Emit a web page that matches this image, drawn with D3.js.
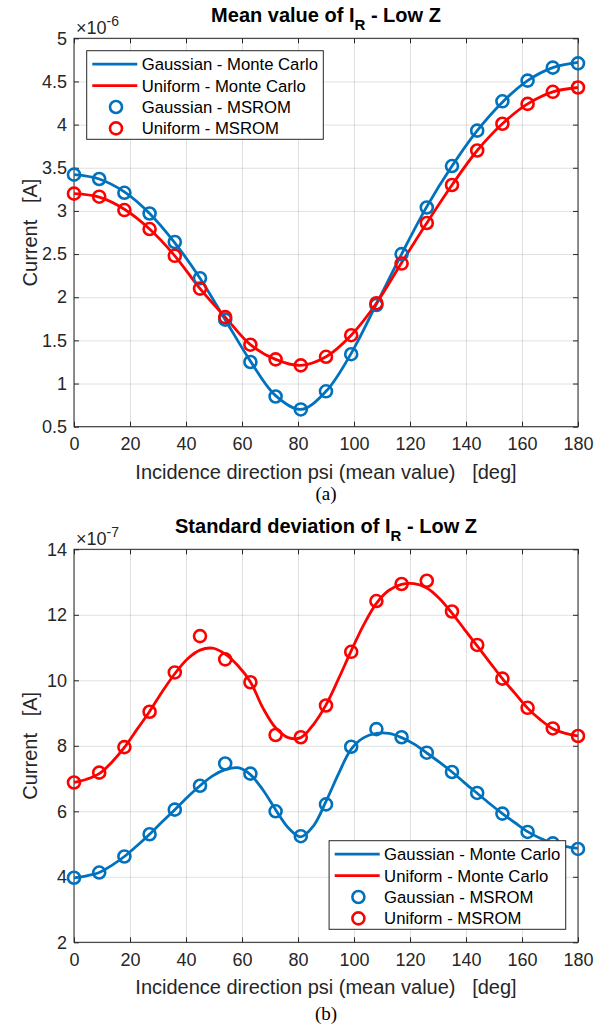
<!DOCTYPE html>
<html lang="en">
<head>
<meta charset="utf-8">
<title>Mean value and standard deviation of I_R - Low Z</title>
<script src="https://d3js.org/d3.v7.min.js"></script>
<style>
  body { margin: 0; background: #fff; }
  svg { display: block; font-family: 'Liberation Sans', Arial, Helvetica, sans-serif; }
  .tick text { fill: #262626; font-size: 18px; }
  .tick line, .box { stroke: #262626; }
  .grid line { stroke: #000; stroke-opacity: 0.12; }
</style>
</head>
<body>
<script>
// incidence angle where MSROM markers sit
const psiMarks = [0, 9, 18, 27, 36, 45, 54, 63, 72, 81, 90, 99, 108, 117, 126, 135, 144, 153, 162, 171, 180];
// finer angles for the Monte Carlo curves of the std plot
const psiFine = [0, 4.5, 9, 13.5, 18, 22.5, 27, 31.5, 36, 40.5, 45, 49.5, 54, 58.5, 63, 67.5, 72, 76.5, 81, 85.5,
                 90, 94.5, 99, 103.5, 108, 112.5, 117, 121.5, 126, 130.5, 135, 139.5, 144, 148.5, 153, 157.5, 162, 166.5, 171, 175.5, 180];
const psiTicks = [0, 20, 40, 60, 80, 100, 120, 140, 160, 180];

// (a) mean value, x 1e-6 A
const meanTicks = [0.5, 1, 1.5, 2, 2.5, 3, 3.5, 4, 4.5, 5];
const gaussMeanMC = [3.42, 3.37, 3.22, 2.97, 2.63, 2.22, 1.74, 1.26, 0.86, 0.70, 0.91, 1.35, 1.92, 2.50, 3.05, 3.52, 3.93, 4.26, 4.51, 4.66, 4.72];
const uniformMeanMC = [3.20, 3.16, 3.02, 2.79, 2.48, 2.10, 1.77, 1.45, 1.28, 1.21, 1.31, 1.56, 1.93, 2.40, 2.86, 3.30, 3.70, 4.01, 4.24, 4.38, 4.43];
const gaussMeanROM = [3.42, 3.37, 3.21, 2.97, 2.64, 2.22, 1.74, 1.25, 0.85, 0.70, 0.91, 1.34, 1.91, 2.50, 3.04, 3.52, 3.93, 4.27, 4.51, 4.66, 4.71];
const uniformMeanROM = [3.20, 3.165, 3.01, 2.79, 2.48, 2.10, 1.77, 1.45, 1.28, 1.21, 1.31, 1.56, 1.93, 2.39, 2.86, 3.30, 3.70, 4.01, 4.24, 4.38, 4.43];

// (b) standard deviation, x 1e-7 A
const sdTicks = [2, 4, 6, 8, 10, 12, 14];
const gaussSdMC = [3.97, 4.03, 4.13, 4.35, 4.62, 4.95, 5.30, 5.68, 6.05, 6.43, 6.78, 7.08, 7.27, 7.33, 7.12, 6.65, 6.05, 5.50, 5.22, 5.55,
                   6.30, 7.15, 7.90, 8.25, 8.38, 8.38, 8.25, 8.05, 7.78, 7.50, 7.20, 6.87, 6.55, 6.23, 5.93, 5.65, 5.38, 5.18, 5.03, 4.93, 4.87];
const uniformSdMC = [6.88, 6.98, 7.15, 7.50, 7.95, 8.50, 9.05, 9.65, 10.20, 10.65, 10.92, 10.98, 10.80, 10.45, 9.95, 9.15, 8.55, 8.25, 8.25, 8.65,
                     9.25, 10.05, 10.90, 11.70, 12.35, 12.75, 12.93, 12.95, 12.82, 12.50, 12.05, 11.55, 11.05, 10.55, 10.05, 9.60, 9.15, 8.80, 8.52, 8.38, 8.30];
const gaussSdROM = [3.97, 4.13, 4.62, 5.30, 6.05, 6.78, 7.46, 7.15, 6.00, 5.24, 6.21, 7.97, 8.51, 8.26, 7.79, 7.20, 6.56, 5.93, 5.37, 5.02, 4.85];
const uniformSdROM = [6.88, 7.18, 7.96, 9.04, 10.24, 11.35, 10.64, 9.94, 8.33, 8.26, 9.23, 10.87, 12.42, 12.94, 13.04, 12.10, 11.08, 10.05, 9.16, 8.53, 8.30];

const legendLabels = ["Gaussian - Monte Carlo", "Uniform - Monte Carlo", "Gaussian - MSROM", "Uniform - MSROM"];

const blue = "#0072BD", red = "#FF0000", ink = "#262626";

const svg = d3.select("body").append("svg").attr("width", 603).attr("height", 1030);

function panel(p) {
  const x = d3.scaleLinear().domain([0, 180]).range([74, 578]);
  const y = d3.scaleLinear().domain(p.yDomain).range([p.bottom, p.top]);
  const g = svg.append("g");
  const h = p.bottom - p.top;

  // grid
  g.append("g").attr("class", "grid").attr("transform", `translate(0,${p.bottom})`)
    .call(d3.axisBottom(x).tickValues(psiTicks).tickSize(-h).tickFormat(""))
    .call(s => s.select(".domain").remove());
  g.append("g").attr("class", "grid").attr("transform", "translate(74,0)")
    .call(d3.axisLeft(y).tickValues(p.yTicks).tickSize(-504).tickFormat(""))
    .call(s => s.select(".domain").remove());

  // axes with inward ticks
  g.append("g").attr("transform", `translate(0,${p.bottom})`)
    .call(d3.axisBottom(x).tickValues(psiTicks).tickSizeInner(-5).tickSizeOuter(0).tickPadding(p.xPad))
    .call(s => s.select(".domain").remove());
  g.append("g").attr("transform", `translate(0,${p.top})`)
    .call(d3.axisTop(x).tickValues(psiTicks).tickSizeInner(-5).tickSizeOuter(0).tickFormat(""))
    .call(s => s.select(".domain").remove());
  g.append("g").attr("transform", "translate(74,0)")
    .call(d3.axisLeft(y).tickValues(p.yTicks).tickSizeInner(-5).tickSizeOuter(0).tickPadding(7).tickFormat(d => String(d)))
    .call(s => s.select(".domain").remove());
  g.append("g").attr("transform", "translate(578,0)")
    .call(d3.axisRight(y).tickValues(p.yTicks).tickSizeInner(-5).tickSizeOuter(0).tickFormat(""))
    .call(s => s.select(".domain").remove());
  g.append("rect").attr("class", "box").attr("x", 74).attr("y", p.top)
    .attr("width", 504).attr("height", h).attr("fill", "none").attr("stroke-width", 1);

  // exponent label
  const ex = g.append("text").attr("x", 76).attr("y", p.top - 4).attr("fill", ink).attr("font-size", 18).text("\u00d710");
  ex.append("tspan").attr("dy", -8).attr("font-size", 14).text(p.exp);

  // title
  const t = g.append("text").attr("x", 326).attr("y", p.top - 16).attr("text-anchor", "middle")
    .attr("font-weight", "bold").attr("font-size", 20).attr("fill", "#000").text(p.title);
  t.append("tspan").attr("dy", 8).attr("font-size", 15).text("R");
  t.append("tspan").attr("dy", -8).text(" - Low Z");

  // axis labels
  g.append("text").attr("x", 326).attr("y", p.bottom + 52).attr("text-anchor", "middle")
    .attr("font-size", 20).attr("fill", ink).attr("xml:space", "preserve")
    .text("Incidence direction psi (mean value)   [deg]");
  g.append("text").attr("transform", `translate(37,${(p.top + p.bottom) / 2}) rotate(-90)`)
    .attr("text-anchor", "middle").attr("font-size", 20).attr("fill", ink).attr("xml:space", "preserve")
    .text("Current   [A]");
  g.append("text").attr("x", 326).attr("y", p.caption).attr("text-anchor", "middle")
    .attr("font-family", "'Liberation Serif', 'Times New Roman', serif").attr("font-size", 19).attr("fill", "#000")
    .text(p.tag);

  // Monte Carlo curves
  const line = d3.line().x(d => x(d[0])).y(d => y(d[1])).curve(d3.curveCatmullRom.alpha(0.5));
  [[p.gaussMC, blue], [p.uniformMC, red]].forEach(([vals, c]) => {
    g.append("path").datum(d3.zip(p.psiLine, vals)).attr("d", line)
      .attr("fill", "none").attr("stroke", c).attr("stroke-width", 2.8);
  });

  // MSROM markers
  [[p.gaussROM, blue], [p.uniformROM, red]].forEach(([vals, c]) => {
    g.append("g").selectAll("circle").data(d3.zip(psiMarks, vals)).join("circle")
      .attr("cx", d => x(d[0])).attr("cy", d => y(d[1])).attr("r", 6)
      .attr("fill", "none").attr("stroke", c).attr("stroke-width", 2.6);
  });

  // legend
  const lg = g.append("g").attr("transform", `translate(${p.legend[0]},${p.legend[1]})`);
  lg.append("rect").attr("width", 236.6).attr("height", 88.6).attr("fill", "#fff")
    .attr("stroke", ink).attr("stroke-width", 1);
  const colors = [blue, red, blue, red];
  legendLabels.forEach((lab, i) => {
    const cy = 13.5 + i * 21.4;
    if (i < 2) {
      lg.append("line").attr("x1", 5.6).attr("x2", 50.6).attr("y1", cy).attr("y2", cy)
        .attr("stroke", colors[i]).attr("stroke-width", 2.8);
    } else {
      lg.append("circle").attr("cx", 29.3).attr("cy", cy).attr("r", 6)
        .attr("fill", "none").attr("stroke", colors[i]).attr("stroke-width", 2.6);
    }
    lg.append("text").attr("x", 55).attr("y", cy).attr("dy", "0.36em")
      .attr("font-size", 16.7).attr("fill", "#000").text(lab);
  });
}

panel({
  top: 38.3, bottom: 426.7, yDomain: [0.5, 5], yTicks: meanTicks, exp: "-6", xPad: 11,
  title: "Mean value of I", tag: "(a)", caption: 500,
  psiLine: psiMarks, gaussMC: gaussMeanMC, uniformMC: uniformMeanMC,
  gaussROM: gaussMeanROM, uniformROM: uniformMeanROM, legend: [86.7, 50.7]
});
panel({
  top: 549.3, bottom: 942.3, yDomain: [2, 14], yTicks: sdTicks, exp: "-7", xPad: 11,
  title: "Standard deviation of I", tag: "(b)", caption: 1020,
  psiLine: psiFine, gaussMC: gaussSdMC, uniformMC: uniformSdMC,
  gaussROM: gaussSdROM, uniformROM: uniformSdROM, legend: [329.1, 840.7]
});
</script>
</body>
</html>
